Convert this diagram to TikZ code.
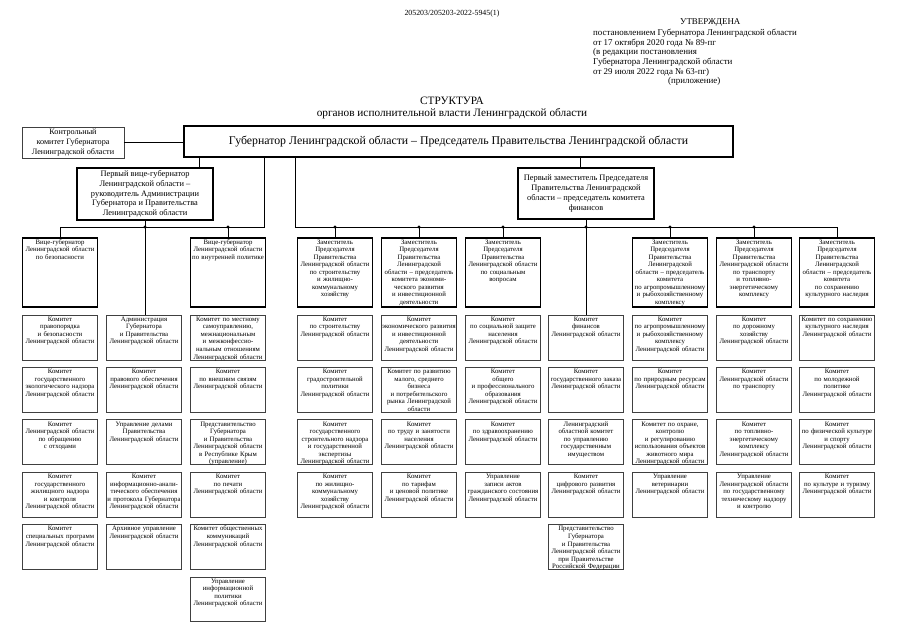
\documentclass[tikz,border=0pt]{standalone}
\usepackage{fontspec}
\setmainfont{Liberation Serif}
\usetikzlibrary{positioning}
\tikzset{
  hdr/.style = {inner sep=0pt, font=\fontsize{8.3}{9}\selectfont},
  headbox/.style = {draw, line width=1.6pt, align=center, inner sep=1pt, outer sep=0pt},
  smallhead/.style = {draw=black!75, line width=0.8pt, align=center, inner sep=0pt, outer sep=0pt},
  depbox/.style = {draw, line width=1.6pt, text width=70pt, inner xsep=0pt, inner ysep=1pt, align=center,
    text height=5pt, text depth=57.3pt, outer sep=0pt, font=\fontsize{6.3}{7}\selectfont},
  unitbox/.style = {draw=black!75, line width=0.8pt, text width=70pt, inner xsep=0pt, inner ysep=1pt, align=center,
    text height=5pt, text depth=34.9pt, outer sep=0pt, font=\fontsize{6.3}{7}\selectfont},
  link/.style = {line width=0.6pt}
}
\begin{document}
\begin{tikzpicture}[x=0.9315pt, y=-0.9315pt]
\useasboundingbox (0,0) rectangle (904,640);

% header
\node[hdr, font=\fontsize{7.3}{8}\selectfont] (docid) at (452,13.5) {205203/205203-2022-5945(1)};
\node[hdr, anchor=base west] (approved) at (680,25) {УТВЕРЖДЕНА};
\node[hdr, anchor=base west] (decree1) at (593,35.5) {постановлением Губернатора Ленинградской области};
\node[hdr, anchor=base west] (decree2) at (593,45.2) {от 17 октября 2020 года № 89-пг};
\node[hdr, anchor=base west] (decree3) at (593,54.9) {(в редакции постановления};
\node[hdr, anchor=base west] (decree4) at (593,64.6) {Губернатора Ленинградской области};
\node[hdr, anchor=base west] (decree5) at (593,74.3) {от 29 июля 2022 года № 63-пг)};
\node[hdr, anchor=base west] (annex) at (668,84) {(приложение)};
\node[hdr, font=\fontsize{10.5}{12}\selectfont, anchor=base] (title) at (452,105) {СТРУКТУРА};
\node[hdr, font=\fontsize{10.5}{12}\selectfont, anchor=base] (subtitle) at (452,117) {органов исполнительной власти Ленинградской области};

% top level
\node[headbox, minimum width=511pt, minimum height=29pt, font=\fontsize{11}{13}\selectfont] (gov) at (458.5,141.5)
  {Губернатор Ленинградской области – Председатель Правительства Ленинградской области};
\node[smallhead, minimum width=95pt, minimum height=29pt, font=\fontsize{7.6}{9.2}\selectfont] (ctrl) at (73,142.5)
  {Контрольный\\комитет Губернатора\\Ленинградской области};
\node[headbox, minimum width=126.7pt, minimum height=48.4pt, font=\fontsize{7.8}{9.2}\selectfont] (fvg) at (145,194)
  {Первый вице-губернатор\\Ленинградской области –\\руководитель Администрации\\Губернатора и Правительства\\Ленинградской области};
\node[headbox, minimum width=126.7pt, minimum height=47.5pt, font=\fontsize{7.8}{9.2}\selectfont] (fdep) at (586,193.5)
  {Первый заместитель Председателя\\Правительства Ленинградской\\области – председатель комитета\\финансов};

% column 1
\node[unitbox, anchor=north] (c1r1) at (60,315) {Комитет\\правопорядка\\и безопасности\\Ленинградской области};
\node[unitbox, below=6.9pt of c1r1] (c1r2) {Комитет\\государственного\\экологического надзора\\Ленинградской области};
\node[unitbox, below=6.9pt of c1r2] (c1r3) {Комитет\\Ленинградской области\\по обращению\\с отходами};
\node[unitbox, below=6.9pt of c1r3] (c1r4) {Комитет\\государственного\\жилищного надзора\\и контроля\\Ленинградской области};
\node[unitbox, below=6.9pt of c1r4] (c1r5) {Комитет\\специальных программ\\Ленинградской области};
\node[depbox, above=7.5pt of c1r1] (d1) {Вице-губернатор\\Ленинградской области\\по безопасности};

% column 2
\node[unitbox, anchor=north] (c2r1) at (144,315) {Администрация\\Губернатора\\и Правительства\\Ленинградской области};
\node[unitbox, below=6.9pt of c2r1] (c2r2) {Комитет\\правового обеспечения\\Ленинградской области};
\node[unitbox, below=6.9pt of c2r2] (c2r3) {Управление делами\\Правительства\\Ленинградской области};
\node[unitbox, below=6.9pt of c2r3] (c2r4) {Комитет\\информационно-анали-\\тического обеспечения\\и протокола Губернатора\\Ленинградской области};
\node[unitbox, below=6.9pt of c2r4] (c2r5) {Архивное управление\\Ленинградской области};

% column 3
\node[unitbox, anchor=north] (c3r1) at (228,315) {Комитет по местному\\самоуправлению,\\межнациональным\\и межконфессио-\\нальным отношениям\\Ленинградской области};
\node[unitbox, below=6.9pt of c3r1] (c3r2) {Комитет\\по внешним связям\\Ленинградской области};
\node[unitbox, below=6.9pt of c3r2] (c3r3) {Представительство\\Губернатора\\и Правительства\\Ленинградской области\\в Республике Крым\\(управление)};
\node[unitbox, below=6.9pt of c3r3] (c3r4) {Комитет\\по печати\\Ленинградской области};
\node[unitbox, below=6.9pt of c3r4] (c3r5) {Комитет общественных\\коммуникаций\\Ленинградской области};
\node[unitbox, below=6.9pt of c3r5] (c3r6) {Управление\\информационной\\политики\\Ленинградской области};
\node[depbox, above=7.5pt of c3r1] (d3) {Вице-губернатор\\Ленинградской области\\по внутренней политике};

% column 4
\node[unitbox, anchor=north] (c4r1) at (335,315) {Комитет\\по строительству\\Ленинградской области};
\node[unitbox, below=6.9pt of c4r1] (c4r2) {Комитет\\градостроительной\\политики\\Ленинградской области};
\node[unitbox, below=6.9pt of c4r2] (c4r3) {Комитет\\государственного\\строительного надзора\\и государственной\\экспертизы\\Ленинградской области};
\node[unitbox, below=6.9pt of c4r3] (c4r4) {Комитет\\по жилищно-\\коммунальному\\хозяйству\\Ленинградской области};
\node[depbox, above=7.5pt of c4r1] (d4) {Заместитель\\Председателя\\Правительства\\Ленинградской области\\по строительству\\и жилищно-\\коммунальному\\хозяйству};

% column 5
\node[unitbox, anchor=north] (c5r1) at (419,315) {Комитет\\экономического развития\\и инвестиционной\\деятельности\\Ленинградской области};
\node[unitbox, below=6.9pt of c5r1] (c5r2) {Комитет по развитию\\малого, среднего\\бизнеса\\и потребительского\\рынка Ленинградской\\области};
\node[unitbox, below=6.9pt of c5r2] (c5r3) {Комитет\\по труду и занятости\\населения\\Ленинградской области};
\node[unitbox, below=6.9pt of c5r3] (c5r4) {Комитет\\по тарифам\\и ценовой политике\\Ленинградской области};
\node[depbox, above=7.5pt of c5r1] (d5) {Заместитель\\Председателя\\Правительства\\Ленинградской\\области – председатель\\комитета экономи-\\ческого развития\\и инвестиционной\\деятельности};

% column 6
\node[unitbox, anchor=north] (c6r1) at (503,315) {Комитет\\по социальной защите\\населения\\Ленинградской области};
\node[unitbox, below=6.9pt of c6r1] (c6r2) {Комитет\\общего\\и профессионального\\образования\\Ленинградской области};
\node[unitbox, below=6.9pt of c6r2] (c6r3) {Комитет\\по здравоохранению\\Ленинградской области};
\node[unitbox, below=6.9pt of c6r3] (c6r4) {Управление\\записи актов\\гражданского состояния\\Ленинградской области};
\node[depbox, above=7.5pt of c6r1] (d6) {Заместитель\\Председателя\\Правительства\\Ленинградской области\\по социальным\\вопросам};

% column 7
\node[unitbox, anchor=north] (c7r1) at (586,315) {Комитет\\финансов\\Ленинградской области};
\node[unitbox, below=6.9pt of c7r1] (c7r2) {Комитет\\государственного заказа\\Ленинградской области};
\node[unitbox, below=6.9pt of c7r2] (c7r3) {Ленинградский\\областной комитет\\по управлению\\государственным\\имуществом};
\node[unitbox, below=6.9pt of c7r3] (c7r4) {Комитет\\цифрового развития\\Ленинградской области};
\node[unitbox, below=6.9pt of c7r4] (c7r5) {Представительство\\Губернатора\\и Правительства\\Ленинградской области\\при Правительстве\\Российской Федерации};

% column 8
\node[unitbox, anchor=north] (c8r1) at (670,315) {Комитет\\по агропромышленному\\и рыбохозяйственному\\комплексу\\Ленинградской области};
\node[unitbox, below=6.9pt of c8r1] (c8r2) {Комитет\\по природным ресурсам\\Ленинградской области};
\node[unitbox, below=6.9pt of c8r2] (c8r3) {Комитет по охране,\\контролю\\и регулированию\\использования объектов\\животного мира\\Ленинградской области};
\node[unitbox, below=6.9pt of c8r3] (c8r4) {Управление\\ветеринарии\\Ленинградской области};
\node[depbox, above=7.5pt of c8r1] (d8) {Заместитель\\Председателя\\Правительства\\Ленинградской\\области – председатель\\комитета\\по агропромышленному\\и рыбохозяйственному\\комплексу};

% column 9
\node[unitbox, anchor=north] (c9r1) at (754,315) {Комитет\\по дорожному\\хозяйству\\Ленинградской области};
\node[unitbox, below=6.9pt of c9r1] (c9r2) {Комитет\\Ленинградской области\\по транспорту};
\node[unitbox, below=6.9pt of c9r2] (c9r3) {Комитет\\по топливно-\\энергетическому\\комплексу\\Ленинградской области};
\node[unitbox, below=6.9pt of c9r3] (c9r4) {Управление\\Ленинградской области\\по государственному\\техническому надзору\\и контролю};
\node[depbox, above=7.5pt of c9r1] (d9) {Заместитель\\Председателя\\Правительства\\Ленинградской области\\по транспорту\\и топливно-\\энергетическому\\комплексу};

% column 10
\node[unitbox, anchor=north] (c10r1) at (837,315) {Комитет по сохранению\\культурного наследия\\Ленинградской области};
\node[unitbox, below=6.9pt of c10r1] (c10r2) {Комитет\\по молодежной\\политике\\Ленинградской области};
\node[unitbox, below=6.9pt of c10r2] (c10r3) {Комитет\\по физической культуре\\и спорту\\Ленинградской области};
\node[unitbox, below=6.9pt of c10r3] (c10r4) {Комитет\\по культуре и туризму\\Ленинградской области};
\node[depbox, above=7.5pt of c10r1] (d10) {Заместитель\\Председателя\\Правительства\\Ленинградской\\области – председатель\\комитета\\по сохранению\\культурного наследия};

% buses
\coordinate (fvgin) at (199,0);
\coordinate (fdepin) at (580,0);
\coordinate (busL) at (264,227);
\coordinate (busR) at (295,227);

\draw[link] (ctrl.east) -- (ctrl.east -| gov.west);
\draw[link] (gov.south -| fvgin) -- (fvg.north -| fvgin);
\draw[link] (gov.south -| busL) -- (busL) -| (d1.north);
\draw[link] (fvg.south) -- (fvg.south |- c2r1.north);
\draw[link] (d3.north) -- (d3.north |- busL);
\draw[link] (gov.south -| busR) -- (busR) -| (d10.north);
\draw[link] (gov.south -| fdepin) -- (fdep.north -| fdepin);
\draw[link] (fdep.south) -- (c7r1.north);
\draw[link] (d4.north) -- (d4.north |- busR);
\draw[link] (d5.north) -- (d5.north |- busR);
\draw[link] (d6.north) -- (d6.north |- busR);
\draw[link] (d8.north) -- (d8.north |- busR);
\draw[link] (d9.north) -- (d9.north |- busR);

\fill (fvg.south |- busL) circle (1.5pt);
\fill (d3.north |- busL) circle (1.5pt);
\fill (d4.north |- busR) circle (1.5pt);
\fill (d5.north |- busR) circle (1.5pt);
\fill (d6.north |- busR) circle (1.5pt);
\fill (fdep.south |- busR) circle (1.5pt);
\fill (d8.north |- busR) circle (1.5pt);
\fill (d9.north |- busR) circle (1.5pt);
\end{tikzpicture}
\end{document}
